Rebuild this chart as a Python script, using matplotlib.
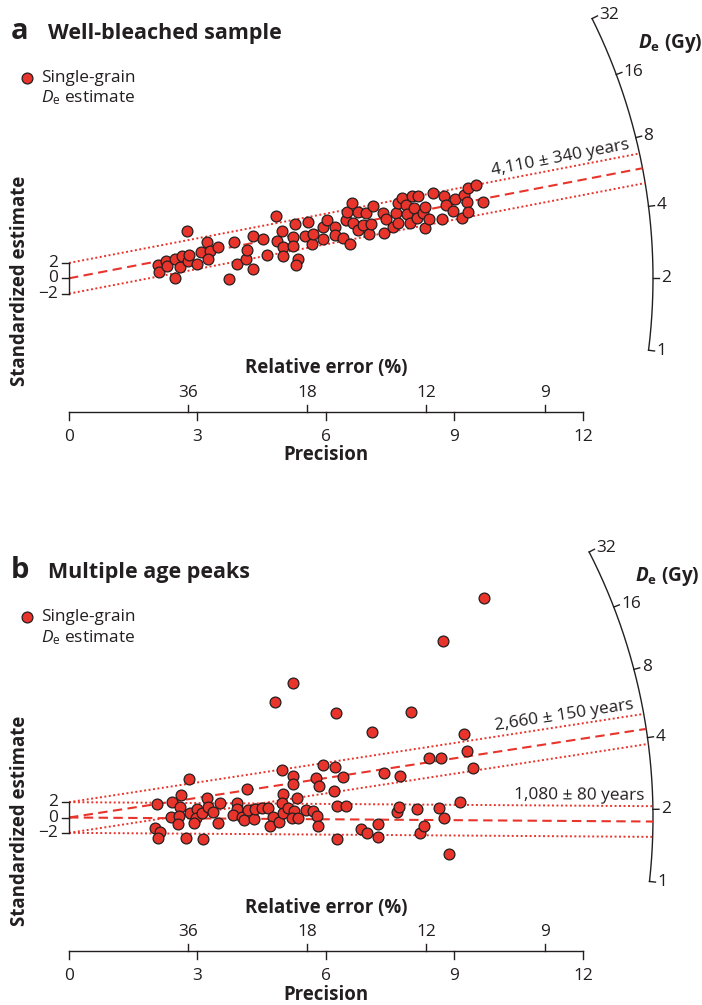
import numpy as np
import matplotlib
matplotlib.use('Agg')
import matplotlib.pyplot as plt

plt.rcParams['font.family'] = ['Open Sans', 'DejaVu Sans']
plt.rcParams['mathtext.fontset'] = 'custom'
plt.rcParams['mathtext.rm'] = 'Open Sans'
plt.rcParams['mathtext.it'] = 'Open Sans:italic'
plt.rcParams['mathtext.bf'] = 'Open Sans:bold'
plt.rcParams['mathtext.bfit'] = 'Open Sans:italic:bold'

# ---------------------------------------------------------------- data
# panel a : precision (1/relative error) and standardized estimate
prec_a = [2.08, 2.10, 2.26, 2.28, 2.47, 2.47, 2.59, 2.63, 2.79, 2.81,
          2.75, 2.98, 3.08, 3.22, 3.29, 3.25, 3.49, 3.74, 3.85, 3.93,
          4.13, 4.16, 4.30, 4.30, 4.52, 4.62, 4.83, 4.86, 4.98, 4.99,
          5.00, 5.24, 5.24, 5.28, 5.35, 5.29, 5.51, 5.57, 5.67, 5.70,
          5.92, 5.92, 6.03, 6.21, 6.21, 6.40, 6.56, 6.47, 6.50, 6.61,
          6.62, 6.75, 6.74, 6.87, 6.93, 7.01, 7.05, 7.09, 7.32, 7.35,
          7.40, 7.56, 7.63, 7.67, 7.69, 7.77, 7.87, 7.90, 7.96, 8.00,
          8.06, 8.12, 8.16, 8.26, 8.31, 8.31, 8.41, 8.51, 8.70, 8.76,
          8.80, 8.96, 9.01, 9.17, 9.22, 9.29, 9.32, 9.32, 9.50, 9.66]
std_a = [1.73, 0.86, 2.29, 1.60, 2.52, 0.00, 1.43, 2.95, 2.29, 3.04,
         6.13, 1.86, 3.47, 4.69, 3.56, 2.48, 4.04, -0.13, 4.69, 1.83,
         2.52, 3.69, 5.52, 1.21, 5.08, 3.04, 8.12, 4.86, 6.21, 4.12,
         2.91, 5.42, 4.25, 7.04, 2.52, 1.73, 5.52, 7.30, 4.47, 5.74,
         6.65, 5.08, 7.60, 6.65, 5.65, 5.22, 4.47, 7.60, 8.60, 9.78,
         7.17, 8.68, 6.30, 6.95, 8.55, 5.74, 7.08, 9.47, 8.55, 5.87,
         7.69, 6.73, 8.55, 9.86, 7.25, 10.51, 9.56, 8.34, 7.25, 10.73,
         9.13, 7.82, 10.73, 8.47, 9.26, 6.52, 7.69, 11.08, 7.69, 10.73,
         9.56, 8.81, 10.30, 7.82, 10.86, 9.91, 8.68, 11.73, 12.16, 9.99]

# panel b
prec_b = [9.70, 8.73, 5.24, 4.82, 6.24, 7.99, 7.08, 9.23, 9.30, 9.44,
          8.41, 8.68, 7.35, 7.73, 5.92, 6.21, 6.40, 6.19, 5.77, 5.84,
          4.97, 5.22, 5.22, 5.00, 5.33, 2.81, 2.61, 4.16, 2.06, 2.41,
          2.58, 3.23, 3.53, 3.93, 3.92, 2.37, 2.56, 2.55, 2.83, 2.98,
          2.97, 2.93, 3.11, 3.25, 3.36, 3.49, 3.82, 4.05, 4.09, 4.19,
          4.32, 4.34, 4.50, 4.65, 4.76, 4.69, 4.90, 4.97, 5.00, 5.11,
          5.26, 5.20, 5.34, 5.53, 5.70, 5.80, 5.81, 6.25, 6.47, 6.26,
          6.82, 6.95, 7.22, 7.22, 7.65, 7.70, 8.12, 8.20, 8.29, 8.65,
          8.76, 9.13, 8.88, 2.01, 2.12, 2.07, 2.73, 3.12]
std_b = [28.58, 23.01, 17.50, 15.10, 13.66, 13.75, 11.11, 10.85, 8.63, 6.41,
         7.72, 7.72, 5.84, 5.41, 6.81, 6.62, 5.24, 3.46, 5.19, 4.15,
         6.19, 5.45, 4.37, 3.02, 2.50, 5.02, 2.93, 3.68, 1.72, 2.06,
         1.41, 2.50, 1.93, 1.93, 1.15, 0.03, 0.20, -0.89, 0.55, 1.07,
         -0.10, -0.76, 0.55, 1.33, 0.76, -0.68, 0.33, 0.03, -0.33, 0.98,
         -0.23, 1.11, 1.28, 1.20, 0.10, -1.11, -0.55, 1.85, 0.55, 1.28,
         0.89, -0.03, -0.03, 0.98, 0.89, 0.23, -1.07, 1.50, 1.54, -2.80,
         -1.50, -2.06, -0.85, -2.50, 0.76, 1.41, 1.07, -2.06, -1.11, 1.24,
         -0.03, 1.98, -4.76, -1.41, -1.93, -2.63, -2.71, -2.80]

# De (Gy) at the horizontal of each radial scale, and central ages
ref_a = 2.0
ref_b = 1.85
centres_a = [5.84]
centres_b = [4.36, 1.78]
ages_a = ['4,110 ± 340 years']
ages_b = ['2,660 ± 150 years', '1,080 ± 80 years']

arc_ticks = [1, 2, 4, 8, 16, 32]
prec_ticks = [0, 3, 6, 9, 12]
relerr_ticks = [36, 18, 12, 9]

# ---------------------------------------------------------------- layout
W, H = 702, 1005
SX, SY = 42.83, 7.67     # pixels per precision unit / standardized unit
X0 = 69                  # pixel column of precision 0
R_ARC = 584              # radius of the De scale, pixels
RED = '#e8342b'
INK = '#231f20'
DOT = (0, (1, 1.3))
DASH = (0, (4.5, 2.6))
FS = 12.4                # tick numbers and plain text
FL = 13.4                # bold axis labels


def draw_panel(top, bottom, oy, letter, title, prec, std, ref, centres, ages):
    ax = fig.add_axes([0, 1 - bottom / H, 1, (bottom - top) / H])
    ax.set_xlim(-X0 / SX, (W - X0) / SX)
    ax.set_ylim((oy - bottom) / SY, (oy - top) / SY)
    ax.axis('off')

    def dx(p):
        return p / SX

    def dy(p):
        return p / SY

    # radial De scale
    def theta(d):
        return np.arctan(SY / SX * np.log(d / ref))

    th = np.linspace(theta(arc_ticks[0]), theta(arc_ticks[-1]), 300)
    ax.plot(dx(R_ARC * np.cos(th)), dy(R_ARC * np.sin(th)), color=INK, lw=1.0)
    for d in arc_ticks:
        t = theta(d)
        ax.plot([dx(R_ARC * np.cos(t)), dx((R_ARC + 6) * np.cos(t))],
                [dy(R_ARC * np.sin(t)), dy((R_ARC + 6) * np.sin(t))],
                color=INK, lw=1.0)
        ax.text(dx((R_ARC + 8) * np.cos(t)), dy((R_ARC + 8) * np.sin(t)), str(d),
                ha='left', va='center', fontsize=FS, color=INK)
    t32 = theta(arc_ticks[-1])
    ax.text(dx(R_ARC * np.cos(t32) + 46), dy(R_ARC * np.sin(t32) - 25),
            r'$\mathbfit{D}_{\mathbf{e}}$ (Gy)', ha='left', va='center',
            fontsize=13.6, fontweight='bold', color=INK)

    # central lines with +/-2 bands, clipped at the arc
    xmax_line = []
    for d in centres:
        s = np.log(d / ref)
        for c, ls in [(0, DASH), (2, DOT), (-2, DOT)]:
            a = SX ** 2 + (SY * s) ** 2
            b = 2 * SY ** 2 * s * c
            cc = (SY * c) ** 2 - R_ARC ** 2
            xe = (-b + np.sqrt(b * b - 4 * a * cc)) / (2 * a)
            xs = np.linspace(0, xe, 50)
            ax.plot(xs, s * xs + c, color=RED, lw=1.5 if ls == DASH else 1.4,
                    linestyle=ls, zorder=2)
            if c == 2:
                xmax_line.append(xe)
    for d, lab, xe in zip(centres, ages, xmax_line):
        s = np.log(d / ref)
        xa = xe - dx(9)
        ang = np.degrees(np.arctan(SY * s / SX))
        ax.text(xa, s * xa + 2 + dy(2.5), lab, ha='right', va='bottom',
                rotation=ang, rotation_mode='anchor', fontsize=FS, color=INK)

    # grains
    ax.plot(prec, std, 'o', ms=7.8, mfc=RED, mec=INK, mew=0.9, zorder=3)

    # standardized estimate axis
    ax.plot([0, 0], [-2, 2], color=INK, lw=1.0)
    for v, s in [(2, '2'), (0, '0'), (-2, '\u22122')]:
        ax.plot([-dx(7), 0], [v, v], color=INK, lw=1.0)
        ax.text(-dx(11), v, s, ha='right', va='center', fontsize=FS, color=INK)
    ax.text(dx(20 - X0), dy(-3), 'Standardized estimate', rotation=90,
            ha='center', va='center', fontsize=FL, fontweight='bold', color=INK)

    # precision / relative error axis
    ya = dy(-133.4)
    ax.plot([prec_ticks[0], prec_ticks[-1]], [ya, ya], color=INK, lw=1.0)
    for p in prec_ticks:
        ax.plot([p, p], [ya, ya - dy(8)], color=INK, lw=1.0)
        ax.text(p, dy(-158.7), str(p), ha='center', va='center', fontsize=FS, color=INK)
    for r in relerr_ticks:
        ax.plot([100 / r] * 2, [ya, ya + dy(7)], color=INK, lw=1.0)
        ax.text(100 / r, dy(-114.7), str(r), ha='center', va='center', fontsize=FS, color=INK)
    xm = (prec_ticks[0] + prec_ticks[-1]) / 2
    ax.text(xm, dy(-90), 'Relative error (%)', ha='center', va='center',
            fontsize=FL, fontweight='bold', color=INK)
    ax.text(xm, dy(-182), 'Precision', ha='center', va='baseline',
            fontsize=FL, fontweight='bold', color=INK)

    # panel letter, title and legend
    ax.text(dx(11 - X0), dy(239.3), letter, ha='left', va='baseline',
            fontsize=21, fontweight='bold', color=INK)
    ax.text(dx(48 - X0), dy(239.3), title, ha='left', va='baseline',
            fontsize=15.5, fontweight='bold', color=INK)
    ax.plot([dx(27 - X0)], [dy(200.3)], 'o', ms=7.8, mfc=RED, mec=INK, mew=0.9)
    ax.text(dx(41 - X0), dy(200.3), 'Single-grain', ha='left', va='center',
            fontsize=FS, color=INK)
    ax.text(dx(41 - X0), dy(180.3), r'$\mathit{D}_{\mathrm{e}}$ estimate', ha='left',
            va='center', fontsize=FS, color=INK)
    return ax


fig = plt.figure(figsize=(W / 100, H / 100), dpi=100)
draw_panel(0, 505, 278.3, 'a', 'Well-bleached sample', prec_a, std_a, ref_a, centres_a, ages_a)
draw_panel(505, 1005, 817.5, 'b', 'Multiple age peaks', prec_b, std_b, ref_b, centres_b, ages_b)
fig.savefig('out.png', dpi=100)
